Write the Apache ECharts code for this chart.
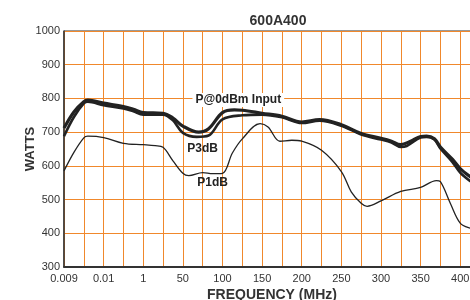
<!DOCTYPE html>
<html>
<head>
<meta charset="utf-8">
<script src="https://cdn.jsdelivr.net/npm/echarts@6/dist/echarts.min.js"></script>
<style>
    html, body { margin: 0; padding: 0; background: #fff; }
    #main { width: 470px; height: 300px; }
</style>
</head>
<body>
<div id="main"></div>
<script>
// x positions are steps along the frequency grid (one step = one orange line)
const xTickLabels = ['0.009', '0.01', '1', '50', '100', '150', '200', '250', '300', '350', '400'];
const yTicks = [300, 400, 500, 600, 700, 800, 900, 1000];

const p0Steps = [0, 0.5, 1, 1.2, 2, 3, 3.5, 4, 5, 5.5, 6, 6.8, 7.3, 8, 8.6, 9, 10, 11, 12, 12.9, 14, 15, 16, 16.5, 17, 17.5, 18, 18.3, 18.7, 19, 19.6, 20, 20.5, 21];
const p0Watts = [712, 760, 790, 795, 786, 776, 768, 758, 756, 742, 718, 700, 710, 758, 766, 765, 756, 747, 730, 737, 722, 696, 682, 674, 663, 673, 687, 688, 680, 656, 620, 592, 568, 548];

const p3Steps = [0, 0.5, 1, 1.2, 2, 3, 3.5, 4, 5, 5.5, 6, 6.7, 7.3, 8, 9, 10, 11, 12, 12.9, 14, 15, 16, 16.5, 17, 17.3, 18, 18.3, 18.7, 19, 19.6, 20, 20.5, 21];
const p3Watts = [688, 745, 785, 790, 780, 770, 762, 752, 752, 735, 698, 686, 690, 738, 750, 752, 744, 727, 734, 719, 693, 678, 670, 656, 659, 684, 686, 678, 652, 612, 580, 555, 535];

const p1Steps = [0, 0.5, 1, 1.2, 2, 3, 4, 4.6, 5, 5.5, 6, 6.3, 7, 7.5, 8, 8.5, 9, 9.9, 10.3, 10.9, 11.5, 12, 13, 14, 14.5, 15, 15.3, 16, 17, 18, 18.8, 19, 19.5, 20, 20.5, 21];
const p1Watts = [585, 640, 683, 688, 684, 667, 663, 660, 655, 615, 578, 571, 580, 577, 578, 638, 680, 725, 715, 673, 676, 673, 646, 583, 523, 489, 480, 496, 524, 536, 556, 553, 489, 430, 415, 410];

const zip = (xs, ys) => xs.map((x, i) => [x, ys[i]]);

const gridOrange = '#f0882c';
const ink = '#222';
const font = 'Liberation Sans';

let myChart = echarts.init(document.getElementById('main'));
myChart.setOption({
    animation: false,
    title: {
        text: '600A400',
        left: 273,
        top: 9,
        textAlign: 'center',
        textStyle: { fontFamily: font, fontSize: 14, fontWeight: 'bold', color: '#333' }
    },
    grid: {
        left: 64,
        top: 31,
        width: 416,
        height: 236,
        outerBoundsMode: 'none',
        show: true,
        borderColor: '#333',
        borderWidth: 1
    },
    xAxis: {
        type: 'value',
        min: 0,
        max: 21,
        interval: 1,
        name: 'FREQUENCY (MHz)',
        nameLocation: 'middle',
        nameGap: 21,
        nameMoveOverlap: false,
        nameTextStyle: { fontFamily: font, fontSize: 14, fontWeight: 'bold', color: '#333' },
        axisLine: { lineStyle: { color: '#333', width: 2 } },
        axisTick: { show: false },
        splitLine: { lineStyle: { color: gridOrange, width: 1 } },
        axisLabel: {
            fontFamily: font,
            fontSize: 11,
            color: '#333',
            margin: 6,
            formatter: (v) => (v % 2 === 0 ? (xTickLabels[v / 2] || '') : '')
        }
    },
    yAxis: {
        type: 'value',
        min: yTicks[0],
        max: yTicks[yTicks.length - 1],
        interval: 100,
        name: 'WATTS',
        nameLocation: 'middle',
        nameGap: 27,
        nameMoveOverlap: false,
        nameTextStyle: { fontFamily: font, fontSize: 13, fontWeight: 'bold', color: '#333' },
        axisLine: { show: true, lineStyle: { color: '#333', width: 1.5 } },
        axisTick: { show: false },
        splitLine: { lineStyle: { color: gridOrange, width: 1 } },
        axisLabel: { fontFamily: font, fontSize: 11, color: '#333', margin: 4, formatter: (v) => String(v) }
    },
    series: [{
        name: 'P1dB',
        type: 'line',
        data: zip(p1Steps, p1Watts),
        smooth: 0.35,
        symbol: 'none',
        lineStyle: { color: ink, width: 1.3 },
        markPoint: {
            symbol: 'circle',
            symbolSize: 1,
            itemStyle: { color: 'rgba(0,0,0,0)' },
            label: { show: true, position: 'inside', formatter: 'P1dB', fontFamily: font, fontSize: 12, fontWeight: 'bold', color: ink },
            data: [{ coord: [7.5, 549] }]
        }
    }, {
        name: 'P3dB',
        type: 'line',
        data: zip(p3Steps, p3Watts),
        smooth: 0.35,
        symbol: 'none',
        lineStyle: { color: ink, width: 2.6 },
        markPoint: {
            symbol: 'circle',
            symbolSize: 1,
            itemStyle: { color: 'rgba(0,0,0,0)' },
            label: { show: true, position: 'inside', formatter: 'P3dB', fontFamily: font, fontSize: 12, fontWeight: 'bold', color: ink },
            data: [{ coord: [7.0, 650] }]
        }
    }, {
        name: 'P@0dBm Input',
        type: 'line',
        data: zip(p0Steps, p0Watts),
        smooth: 0.35,
        symbol: 'none',
        lineStyle: { color: ink, width: 3.2 },
        markPoint: {
            symbol: 'circle',
            symbolSize: 1,
            itemStyle: { color: 'rgba(0,0,0,0)' },
            label: {
                show: true, position: 'inside', formatter: 'P@0dBm Input',
                fontFamily: font, fontSize: 12, fontWeight: 'bold', color: ink,
                backgroundColor: '#fff', padding: [1, 3]
            },
            data: [{ coord: [8.8, 795] }]
        }
    }]
});
</script>
</body>
</html>
